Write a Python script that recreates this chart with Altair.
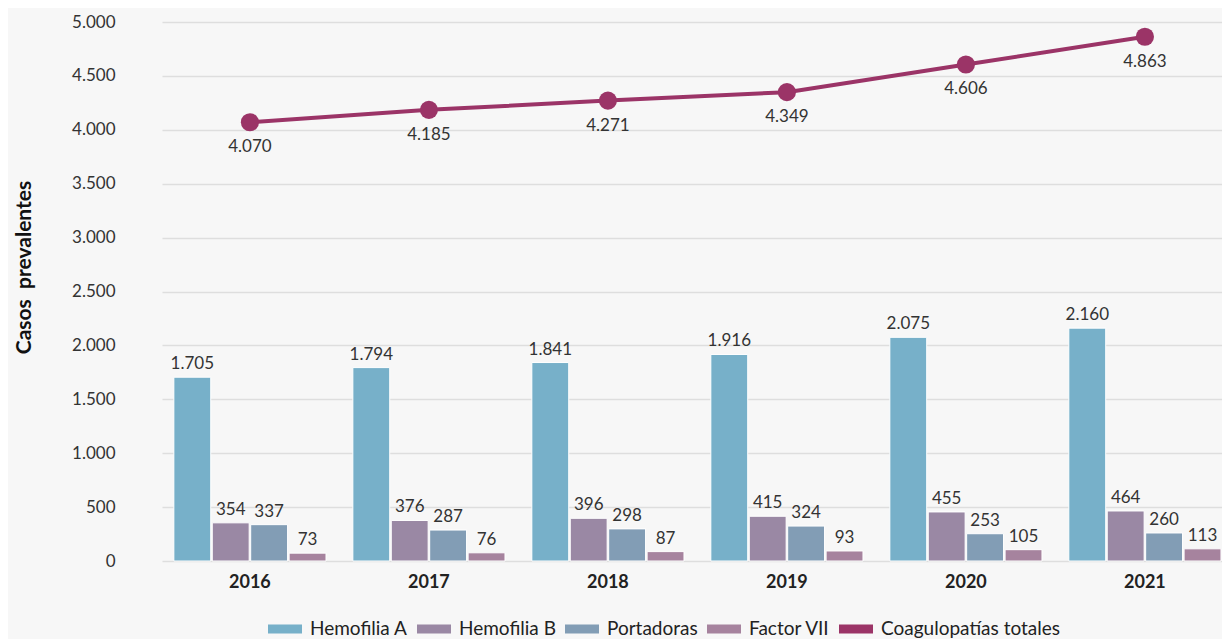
import altair as alt
import pandas as pd

years = ["2016", "2017", "2018", "2019", "2020", "2021"]
hemofilia_a = [1705, 1794, 1841, 1916, 2075, 2160]
hemofilia_b = [354, 376, 396, 415, 455, 464]
portadoras = [337, 287, 298, 324, 253, 260]
factor_vii = [73, 76, 87, 93, 105, 113]
totales = [4070, 4185, 4271, 4349, 4606, 4863]

series = ["Hemofilia A", "Hemofilia B", "Portadoras", "Factor VII"]
line_name = "Coagulopatías totales"
colors = ["#77b0c9", "#9a88a4", "#829db5", "#a6839e", "#9b3467"]
y_ticks = [0, 500, 1000, 1500, 2000, 2500, 3000, 3500, 4000, 4500, 5000]


def fmt(v):
    return f"{v:,}".replace(",", ".")


rows = []
for i, yr in enumerate(years):
    for s, vals in zip(series, [hemofilia_a, hemofilia_b, portadoras, factor_vii]):
        rows.append({"year": yr, "serie": s, "value": vals[i], "label": fmt(vals[i])})
bars_df = pd.DataFrame(rows)
line_df = pd.DataFrame({"year": years, "value": totales,
                        "label": [fmt(v) for v in totales]})

FONT = "Lato"

x_enc = alt.X(
    "year:N", sort=years,
    scale=alt.Scale(paddingInner=0.15, paddingOuter=0.036, align=0.92),
    axis=alt.Axis(title=None, labelFontWeight="bold", labelFontSize=18,
                  labelColor="#222222", labelPadding=12, ticks=False,
                  domain=False, labelAngle=0, grid=False),
)
y_enc = alt.Y(
    "value:Q",
    scale=alt.Scale(domain=[0, 5000], nice=False),
    axis=alt.Axis(values=y_ticks, title="Casos\u00a0\u00a0prevalentes",
                  labelExpr="replace(format(datum.value, ',d'), ',', '.')",
                  labelFontSize=17, labelColor="#333333", labelPadding=47,
                  titleFontSize=21, titleFontWeight="bold", titleColor="#111111",
                  titlePadding=37, titleY=245, ticks=False, domain=False,
                  gridColor="#dedede", gridWidth=1.5),
)

xoff = alt.XOffset("serie:N", sort=series, scale=alt.Scale(paddingInner=0.04))

bars = alt.Chart(bars_df).mark_bar(stroke="white", strokeWidth=1).encode(
    x=x_enc,
    xOffset=xoff,
    y=y_enc,
    color=alt.Color(
        "serie:N",
        scale=alt.Scale(domain=series + [line_name], range=colors),
        legend=alt.Legend(
            orient="none", legendX=106, legendY=590, direction="horizontal",
            columns=5, title=None,
            symbolType="M-1,-0.26L1,-0.26L1,0.26L-1,0.26Z", symbolSize=1156,
            symbolStrokeWidth=0, symbolOpacity=1,
            labelFontSize=19, labelFont=FONT, labelColor="#222222",
            labelOffset=8, columnPadding=9, labelLimit=0,
        ),
    ),
)

bar_text = alt.Chart(bars_df).mark_text(
    baseline="bottom", dy=-4, fontSize=17, font=FONT, color="#333333"
).encode(x=x_enc, xOffset=xoff, y=y_enc, text="label:N")

line = alt.Chart(line_df).mark_line(color="#9b3467", strokeWidth=4).encode(
    x=x_enc, y=y_enc
)
points = alt.Chart(line_df).mark_circle(color="#9b3467", size=330, opacity=1).encode(
    x=x_enc, y=y_enc
)
line_text = alt.Chart(line_df).mark_text(
    baseline="top", dy=17, fontSize=17, font=FONT, color="#333333"
).encode(x=x_enc, y=y_enc, text="label:N")

chart = (
    alt.layer(bars, bar_text, line, points, line_text)
    .properties(width=1060, height=539,
                padding={"left": 5, "top": 5, "right": 0, "bottom": 0},
                background="#f7f7f7")
    .configure(font=FONT)
    .configure_view(stroke=None)
)

chart.save("out.html", embed_options={"renderer": "svg", "actions": False})
